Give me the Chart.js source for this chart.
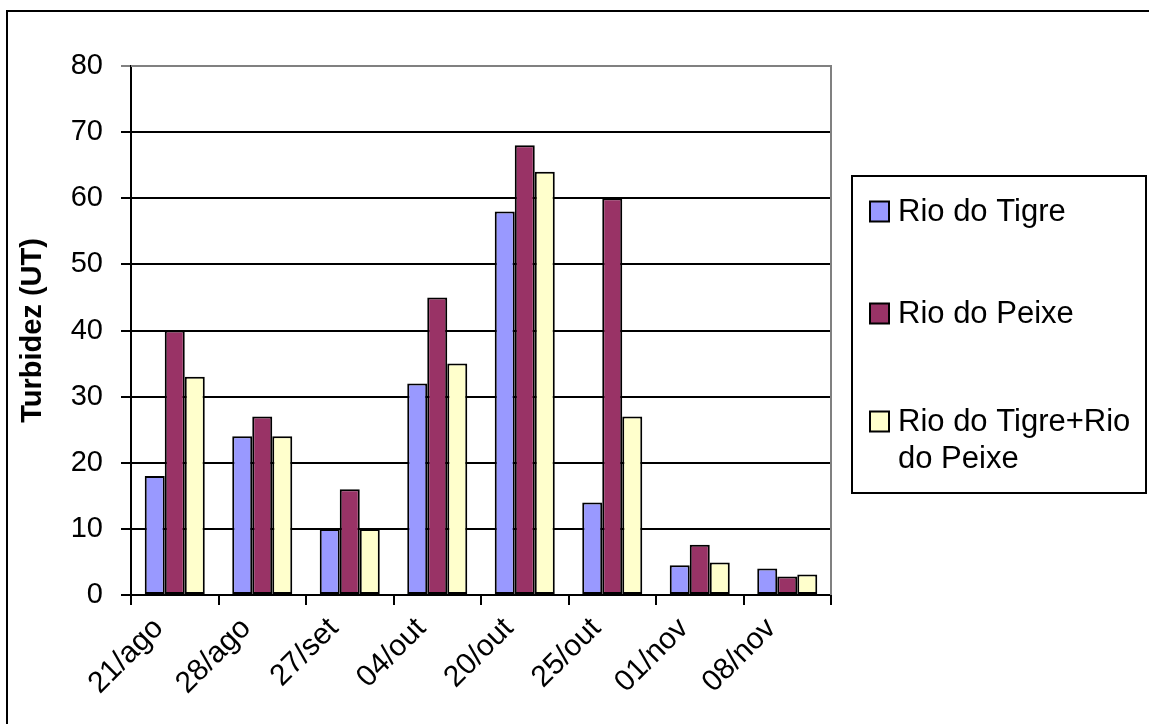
<!DOCTYPE html>
<html>
<head>
<meta charset="utf-8">
<script src="https://cdn.jsdelivr.net/npm/chart.js@4.4.1/dist/chart.umd.min.js"></script>
<style>
  html, body { margin: 0; padding: 0; background: #ffffff; }
  #wrap { position: relative; width: 1149px; height: 724px; }
</style>
</head>
<body>
<div id="wrap"><canvas id="c" width="1149" height="724"></canvas></div>
<script>
const categories = ['21/ago', '28/ago', '27/set', '04/out', '20/out', '25/out', '01/nov', '08/nov'];
const rioTigre = [18, 24, 10, 32, 58, 14, 4.5, 4];
const rioPeixe = [40, 27, 16, 45, 68, 60, 7.6, 2.8];
const rioTigrePeixe = [33, 24, 10, 35, 64, 27, 4.9, 3.1];
const seriesNames = ['Rio do Tigre', 'Rio do Peixe', 'Rio do Tigre+Rio do Peixe'];
const seriesColors = ['#9999FF', '#993366', '#FFFFCC'];
const yTickValues = [0, 10, 20, 30, 40, 50, 60, 70, 80];
const yTitle = 'Turbidez (UT)';

const FONT = "'Liberation Sans', Arial, sans-serif";
const FS = 29;
const FS_X = 30;
const FS_LEG = 31;

const frameAndLegend = {
  id: 'frameAndLegend',
  afterDraw(chart) {
    const ctx = chart.ctx;
    const a = chart.chartArea;
    ctx.save();
    // plot-area border (grey top/right)
    ctx.strokeStyle = '#808080';
    ctx.lineWidth = 2;
    ctx.beginPath();
    ctx.moveTo(a.left, a.top);
    ctx.lineTo(a.right, a.top);
    ctx.lineTo(a.right, a.bottom);
    ctx.stroke();
    // outer frame
    ctx.strokeStyle = '#000';
    ctx.lineWidth = 2;
    ctx.beginPath();
    ctx.moveTo(7, 724);
    ctx.lineTo(7, 11);
    ctx.lineTo(1149, 11);
    ctx.stroke();
    // legend box
    const lx = 852, ly = 176, lw = 1146 - 852, lh = 493 - 176;
    ctx.fillStyle = '#fff';
    ctx.fillRect(lx, ly, lw, lh);
    ctx.strokeRect(lx, ly, lw, lh);
    ctx.font = FS_LEG + 'px ' + FONT;
    ctx.textBaseline = 'middle';
    ctx.textAlign = 'left';
    const centers = [211.5, 313.5, 421.5];
    const lineH = 37;
    chart.data.datasets.forEach((ds, i) => {
      const cy = centers[i];
      ctx.fillStyle = ds.backgroundColor;
      ctx.fillRect(870, cy - 10, 19, 20);
      ctx.strokeStyle = '#000';
      ctx.lineWidth = 2;
      ctx.strokeRect(870, cy - 10, 19, 20);
      // simple wrap
      const words = ds.label.split(' ');
      const lines = [];
      let cur = '';
      const maxW = 1142 - 899;
      words.forEach(w => {
        const t = cur ? cur + ' ' + w : w;
        if (ctx.measureText(t).width > maxW && cur) { lines.push(cur); cur = w; }
        else cur = t;
      });
      if (cur) lines.push(cur);
      ctx.fillStyle = '#000';
      lines.forEach((ln, k) => ctx.fillText(ln, 898, cy + 1 + k * lineH));
    });
    ctx.restore();
  }
};

new Chart(document.getElementById('c'), {
  type: 'bar',
  data: {
    labels: categories,
    datasets: [
      { label: seriesNames[0], data: rioTigre, backgroundColor: seriesColors[0] },
      { label: seriesNames[1], data: rioPeixe, backgroundColor: seriesColors[1] },
      { label: seriesNames[2], data: rioTigrePeixe, backgroundColor: seriesColors[2] }
    ].map(d => Object.assign(d, {
      borderColor: '#000', borderWidth: 2, borderSkipped: false,
      categoryPercentage: 0.686, barPercentage: 1.0
    }))
  },
  options: {
    responsive: false,
    animation: false,
    devicePixelRatio: 1,
    layout: { padding: { left: 0, right: 318, top: 66, bottom: 0 } },
    plugins: { legend: { display: false }, tooltip: { enabled: false }, title: { display: false } },
    scales: {
      x: {
        afterFit(s) { s.height = 129; },
        grid: {
          offset: true, drawOnChartArea: false, drawTicks: true, tickLength: 10,
          color: '#000', lineWidth: 2
        },
        border: { display: true, color: '#000', width: 2 },
        ticks: {
          autoSkip: false, minRotation: 45, maxRotation: 45, padding: 6, labelOffset: -16,
          color: '#000', font: { family: FONT, size: FS_X }
        }
      },
      y: {
        min: 0, max: 80,
        afterFit(s) { s.width = 131; },
        afterBuildTicks(s) { s.ticks = yTickValues.map(v => ({ value: v })); },
        grid: {
          drawTicks: true, tickLength: 10,
          color: (c) => (c.tick && c.tick.value === 80) ? '#808080' : '#000',
          lineWidth: 2
        },
        border: { display: true, color: '#000', width: 2 },
        ticks: {
          padding: 18, color: '#000', font: { family: FONT, size: FS }
        },
        title: {
          display: true, text: yTitle, color: '#000',
          font: { family: FONT, size: FS, weight: 'bold' },
          padding: { top: 16, bottom: 0 }
        }
      }
    }
  },
  plugins: [frameAndLegend]
});
</script>
</body>
</html>
